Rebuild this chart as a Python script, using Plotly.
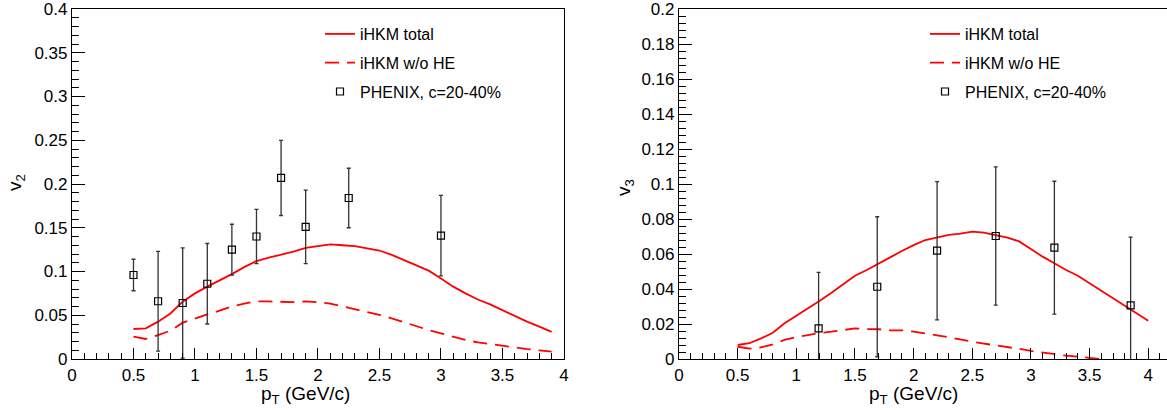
import plotly.graph_objects as go

# ---------------- data: left panel (v2) ----------------
pt_v2_model = [0.5, 0.6, 0.7, 0.8, 0.9, 1.0, 1.1, 1.2, 1.3, 1.4, 1.5, 1.6, 1.7, 1.8,
               1.9, 2.0, 2.1, 2.2, 2.3, 2.4, 2.5, 2.6, 2.7, 2.8, 2.9, 3.0, 3.1, 3.2,
               3.3, 3.4, 3.5, 3.6, 3.7, 3.8, 3.9]
v2_total = [0.0343, 0.035, 0.0427, 0.052, 0.0655, 0.075, 0.0827, 0.0895, 0.097, 0.105,
            0.112, 0.1158, 0.119, 0.1227, 0.127, 0.129, 0.131, 0.130, 0.129, 0.1265,
            0.124, 0.119, 0.113, 0.1067, 0.101, 0.092, 0.0827, 0.075, 0.068, 0.0625,
            0.056, 0.049, 0.0427, 0.037, 0.031]
v2_nohe = [0.0255, 0.0229, 0.0274, 0.0324, 0.0415, 0.0465, 0.051, 0.0552, 0.060, 0.0632,
           0.066, 0.0658, 0.0655, 0.065, 0.0658, 0.065, 0.0632, 0.060, 0.057, 0.0538,
           0.0505, 0.0465, 0.042, 0.037, 0.0331, 0.0293, 0.0255, 0.0217, 0.019, 0.017,
           0.0152, 0.013, 0.0114, 0.0099, 0.0084]
pt_v2_phenix = [0.5, 0.7, 0.9, 1.1, 1.3, 1.5, 1.7, 1.9, 2.25, 3.0]
v2_phenix = [0.096, 0.066, 0.064, 0.086, 0.125, 0.140, 0.207, 0.151, 0.184, 0.141]
v2_phenix_err = [0.018, 0.057, 0.063, 0.046, 0.029, 0.031, 0.043, 0.042, 0.034, 0.046]

# ---------------- data: right panel (v3) ----------------
pt_v3_total = [0.5, 0.6, 0.7, 0.8, 0.9, 1.0, 1.1, 1.2, 1.3, 1.4, 1.5, 1.6, 1.7, 1.8,
               1.9, 2.0, 2.1, 2.2, 2.3, 2.4, 2.5, 2.6, 2.7, 2.8, 2.9, 3.0, 3.1, 3.2,
               3.3, 3.4, 3.5, 3.6, 3.7, 3.8, 3.9, 4.0]
v3_total = [0.008, 0.009, 0.0118, 0.015, 0.0204, 0.0246, 0.0288, 0.0333, 0.0379, 0.0428,
            0.0476, 0.0509, 0.0543, 0.0581, 0.0617, 0.0651, 0.068, 0.0695, 0.071, 0.0716,
            0.0728, 0.0722, 0.0709, 0.0693, 0.0672, 0.0627, 0.0585, 0.0547, 0.0509, 0.0476,
            0.0432, 0.039, 0.0347, 0.0305, 0.0261, 0.0219]
pt_v3_nohe = [0.5, 0.6, 0.7, 0.8, 0.9, 1.0, 1.1, 1.2, 1.3, 1.4, 1.5, 1.6, 1.7, 1.8,
              1.9, 2.0, 2.1, 2.2, 2.3, 2.4, 2.5, 2.6, 2.7, 2.8, 2.9, 3.0, 3.1, 3.2,
              3.3, 3.4, 3.5, 3.6]
v3_nohe = [0.007, 0.0059, 0.0067, 0.0084, 0.0109, 0.0126, 0.0137, 0.0149, 0.0156, 0.0166,
           0.0175, 0.0171, 0.017, 0.0164, 0.0164, 0.0156, 0.0147, 0.0135, 0.0124, 0.011,
           0.0099, 0.0088, 0.0079, 0.007, 0.0058, 0.0046, 0.0036, 0.0025, 0.0019, 0.0013,
           0.0007, 0.0]
pt_v3_phenix = [1.19, 1.69, 2.2, 2.7, 3.2, 3.85]
v3_phenix = [0.0175, 0.0413, 0.0619, 0.0703, 0.0636, 0.0307]
v3_phenix_err = [0.032, 0.040, 0.0395, 0.0395, 0.038, 0.039]

# ---------------- tick labels ----------------
x_ticks = [0, 0.5, 1, 1.5, 2, 2.5, 3, 3.5, 4]
x_ticklabels = ["0", "0.5", "1", "1.5", "2", "2.5", "3", "3.5", "4"]
v2_ticks = [0, 0.05, 0.1, 0.15, 0.2, 0.25, 0.3, 0.35, 0.4]
v2_ticklabels = ["0", "0.05", "0.1", "0.15", "0.2", "0.25", "0.3", "0.35", "0.4"]
v3_ticks = [0, 0.02, 0.04, 0.06, 0.08, 0.1, 0.12, 0.14, 0.16, 0.18, 0.2]
v3_ticklabels = ["0", "0.02", "0.04", "0.06", "0.08", "0.1", "0.12", "0.14", "0.16",
                 "0.18", "0.2"]

legend_names = ["iHKM total", "iHKM w/o HE", "PHENIX, c=20-40%"]

FONT = "Liberation Sans, Arial, Helvetica, sans-serif"
RED = "#ff0000"
DASH = "14px,8px"

fig = go.Figure()

def add_panel(xa, ya, leg, pt_a, ya_vals, pt_b, yb_vals, pt_d, yd, ed):
    fig.add_trace(go.Scatter(x=pt_a, y=ya_vals, mode="lines", name=legend_names[0],
                             line=dict(color=RED, width=1.8), xaxis=xa, yaxis=ya,
                             legend=leg, legendgroup=leg + "a"))
    fig.add_trace(go.Scatter(x=pt_b, y=yb_vals, mode="lines", name=legend_names[1],
                             line=dict(color=RED, width=1.8, dash=DASH), xaxis=xa, yaxis=ya,
                             legend=leg, legendgroup=leg + "b"))
    fig.add_trace(go.Scatter(x=pt_d, y=yd, mode="markers", name=legend_names[2],
                             marker=dict(symbol="square-open", size=7, color="black",
                                         line=dict(width=1.2, color="black")),
                             error_y=dict(type="data", array=ed, visible=True,
                                          color="#333333", thickness=1.3, width=2),
                             xaxis=xa, yaxis=ya, legend=leg, legendgroup=leg + "c"))

add_panel("x", "y", "legend", pt_v2_model, v2_total, pt_v2_model, v2_nohe,
          pt_v2_phenix, v2_phenix, v2_phenix_err)
add_panel("x2", "y2", "legend2", pt_v3_total, v3_total, pt_v3_nohe, v3_nohe,
          pt_v3_phenix, v3_phenix, v3_phenix_err)

W, H = 1167, 410
axis_common = dict(showgrid=False, zeroline=False, showline=True, linecolor="black",
                   linewidth=1.2, mirror=True, ticks="inside", tickcolor="black",
                   automargin=False, tickmode="array", ticklabeloverflow="allow",
                   tickfont=dict(family=FONT, size=17, color="black"))

fig.update_layout(
    width=W, height=H,
    margin=dict(l=0, r=0, t=9, b=51, autoexpand=False),
    paper_bgcolor="white", plot_bgcolor="white",
    font=dict(family=FONT, color="black"),
    xaxis=dict(domain=[72 / W, 564 / W], range=[0, 4.0005], tickvals=x_ticks,
               ticktext=x_ticklabels, ticklen=11,
               minor=dict(ticks="inside", dtick=0.1, tick0=0, ticklen=6, tickcolor="black"),
               anchor="y", **axis_common),
    yaxis=dict(domain=[0, 1], range=[0, 0.40005], tickvals=v2_ticks,
               ticktext=v2_ticklabels, ticklen=13,
               minor=dict(ticks="inside", dtick=0.01, tick0=0, ticklen=7, tickcolor="black"),
               anchor="x", **axis_common),
    xaxis2=dict(domain=[679 / W, 1.0], range=[0, 4.16], tickvals=x_ticks,
                ticktext=x_ticklabels, ticklen=11,
                minor=dict(ticks="inside", dtick=0.1, tick0=0, ticklen=6, tickcolor="black"),
                anchor="y2", **axis_common),
    yaxis2=dict(domain=[0, 1], range=[0, 0.20003], tickvals=v3_ticks,
                ticktext=v3_ticklabels, ticklen=13,
                minor=dict(ticks="inside", dtick=0.004, tick0=0, ticklen=7, tickcolor="black"),
                anchor="x2", **axis_common),
    legend=dict(x=320 / W, y=1 - 8 / 350, xanchor="left", yanchor="top",
                bgcolor="rgba(0,0,0,0)", borderwidth=0, tracegroupgap=5,
                font=dict(family=FONT, size=16, color="black")),
    legend2=dict(x=925 / W, y=1 - 8 / 350, xanchor="left", yanchor="top",
                 bgcolor="rgba(0,0,0,0)", borderwidth=0, tracegroupgap=5,
                 font=dict(family=FONT, size=16, color="black")),
    showlegend=True,
)

# axis titles
for xc, txt in [(305, "p<sub>T</sub> (GeV/c)"), (913, "p<sub>T</sub> (GeV/c)")]:
    fig.add_annotation(text=txt, xref="paper", yref="paper", x=xc / W,
                       y=-(395 - 359) / 350, xanchor="center", yanchor="middle",
                       showarrow=False, font=dict(family=FONT, size=19, color="black"))
for xc, yc, txt in [(16, 183, "v<sub>2</sub>"), (625, 188, "v<sub>3</sub>")]:
    fig.add_annotation(text=txt, xref="paper", yref="paper", x=xc / W,
                       y=1 - (yc - 9) / 350, xanchor="center", yanchor="middle",
                       textangle=-90, showarrow=False,
                       font=dict(family=FONT, size=19, color="black"))

# remove the default page margin so the figure sits at the window's top-left corner
fig.write_html("out.html", config={"displayModeBar": False},
               post_script="document.body.style.margin='0';document.body.style.overflow='hidden';")
